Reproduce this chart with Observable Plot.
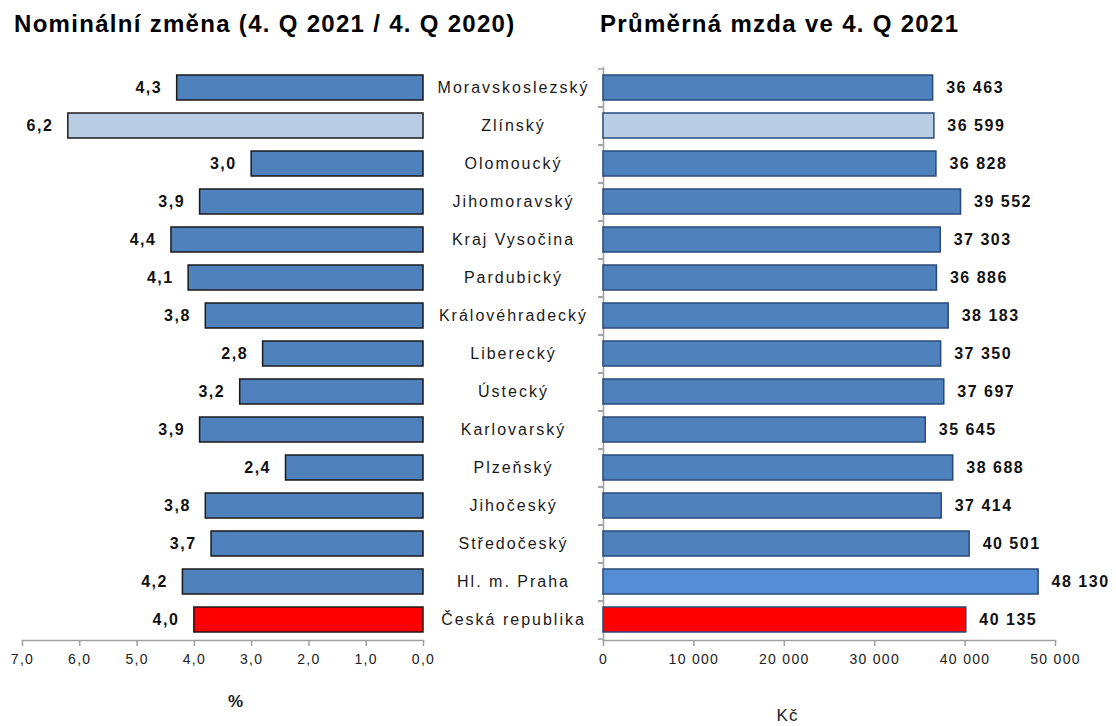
<!DOCTYPE html>
<html>
<head>
<meta charset="utf-8">
<script src="https://cdn.jsdelivr.net/npm/d3@7"></script>
<script src="https://cdn.jsdelivr.net/npm/@observablehq/plot@0.6"></script>
<style>
  html, body { margin: 0; padding: 0; background: #fff; }
  #wrap { position: relative; width: 1116px; height: 726px; font-family: "Liberation Sans", Arial, sans-serif; }
  .title { position: absolute; top: 10px; font-weight: bold; font-size: 24px; letter-spacing: 1.3px; color: #000; white-space: nowrap; }
  .plot { position: absolute; top: 0; }
  .plot svg { overflow: visible; }
  .plot g[aria-label="text"] text { letter-spacing: 1.5px; }
  .plot g[aria-label="y-axis tick label"] text { letter-spacing: 2px; }
  .plot g[aria-label="x-axis tick label"] text { letter-spacing: 1.3px; font-size: 14px; }
  .plot g[aria-label="x-axis label"] text { letter-spacing: 1px; font-size: 17px; }
</style>
</head>
<body>
<div id="wrap">
  <div class="title" id="t1" style="left:14px"></div>
  <div class="title" id="t2" style="left:600px"></div>
  <div class="plot" id="left" style="left:0px"></div>
  <div class="plot" id="right" style="left:400px"></div>
</div>
<script>
const titleLeft = "Nominální změna (4. Q 2021 / 4. Q 2020)";
const titleRight = "Průměrná mzda ve 4. Q 2021";
const regions = ["Moravskoslezský","Zlínský","Olomoucký","Jihomoravský","Kraj Vysočina","Pardubický","Královéhradecký","Liberecký","Ústecký","Karlovarský","Plzeňský","Jihočeský","Středočeský","Hl. m. Praha","Česká republika"];
const change = [4.3,6.2,3.0,3.9,4.4,4.1,3.8,2.8,3.2,3.9,2.4,3.8,3.7,4.2,4.0];
const wage = [36463,36599,36828,39552,37303,36886,38183,37350,37697,35645,38688,37414,40501,48130,40135];
const kind = ["base","highlight","base","base","base","base","base","base","base","base","base","base","base","praha","total"];
const leftTicks = [0,1,2,3,4,5,6,7];
const rightTicks = [0,10000,20000,30000,40000,50000];
const unitLeft = "%";
const unitRight = "Kč";

document.getElementById("t1").textContent = titleLeft;
document.getElementById("t2").textContent = titleRight;

const data = regions.map((r,i)=>({region:r, change:change[i], wage:wage[i], kind:kind[i]}));
const fillLeft = {base:"#4f81bd", highlight:"#b9cde5", praha:"#4f81bd", total:"#ff0000"};
const fillRight = {base:"#4f81bd", highlight:"#b9cde5", praha:"#558ed5", total:"#ff0000"};

const H = 726, mTop = 67, mBottom = 86;
const step = (H - mTop - mBottom) / regions.length;
const yScale = {domain: regions, paddingInner: 0.34, paddingOuter: 0.17};

const comma1 = v => d3.format(".1f")(v).replace(".", ",");
const spaced = v => d3.format(",")(v).replace(/,/g, " ");
const font = "'Liberation Sans', Arial, sans-serif";

const left = Plot.plot({
  width: 440, height: H,
  marginLeft: 22, marginRight: 17, marginTop: mTop, marginBottom: mBottom,
  style: {fontFamily: font, background: "transparent"},
  x: {domain: [0, 7], reverse: true},
  y: yScale,
  marks: [
    Plot.frame({anchor: "bottom", stroke: "#a0a0a0", strokeWidth: 1.5}),
    Plot.barX(data, {y: "region", x1: 0, x2: "change", fill: d => fillLeft[d.kind], stroke: "#1a1a1a", strokeWidth: 1.5}),
    Plot.text(data, {y: "region", x: "change", text: d => comma1(d.change), textAnchor: "end", dx: -15, fontWeight: "bold", fontSize: 16, fill: "#111"}),
    Plot.axisY({ticks: [], label: null}),
    Plot.axisX({ticks: leftTicks, tickFormat: comma1, tickSize: 6, tickPadding: 8, stroke: "#a0a0a0", strokeWidth: 1.5, fontSize: 14, fill: "#222",
      label: unitLeft, labelAnchor: "center", labelArrow: "none", labelOffset: 66}),
  ]
});
left.querySelectorAll("g[aria-label='x-axis label'] text").forEach(e => {
  e.setAttribute("font-weight", "bold"); e.setAttribute("dx", "13");
});
document.getElementById("left").appendChild(left);

const right = Plot.plot({
  width: 716, height: H,
  marginLeft: 203, marginRight: 61, marginTop: mTop, marginBottom: mBottom,
  style: {fontFamily: font, background: "transparent"},
  x: {domain: [0, 50000]},
  y: yScale,
  marks: [
    Plot.frame({anchor: "bottom", stroke: "#a0a0a0", strokeWidth: 1.5}),
    Plot.frame({anchor: "left", stroke: "#a0a0a0", strokeWidth: 1.5}),
    Plot.barX(data, {y: "region", x1: 0, x2: "wage", fill: d => fillRight[d.kind], stroke: "#2a4a7a", strokeWidth: 1.5,
      strokeDasharray: d => d.kind === "praha" ? "2,1" : null}),
    Plot.text(data, {y: "region", x: "wage", text: d => spaced(d.wage), textAnchor: "start", dx: 13, fontWeight: "bold", fontSize: 16, fill: "#111"}),
    Plot.axisY({tickSize: 0, tickPadding: 0, dx: -90, textAnchor: "middle", fontSize: 16, fill: "#1a1a1a", label: null}),
    Plot.axisY({tickSize: 5, tickFormat: () => "", dy: step / 2, stroke: "#a0a0a0", strokeWidth: 1.5, label: null}),
    Plot.axisY({tickSize: 5, tickFormat: () => "", dy: -step / 2, stroke: "#a0a0a0", strokeWidth: 1.5, label: null}),
    Plot.axisX({ticks: rightTicks, tickFormat: spaced, tickSize: 6, tickPadding: 8, stroke: "#a0a0a0", strokeWidth: 1.5, fontSize: 14, fill: "#222",
      label: unitRight, labelAnchor: "center", labelArrow: "none", labelOffset: 80})
  ]
});
right.querySelectorAll("g[aria-label='x-axis label'] text").forEach(e => e.setAttribute("dx", "-42"));
document.getElementById("right").appendChild(right);
</script>
</body>
</html>
